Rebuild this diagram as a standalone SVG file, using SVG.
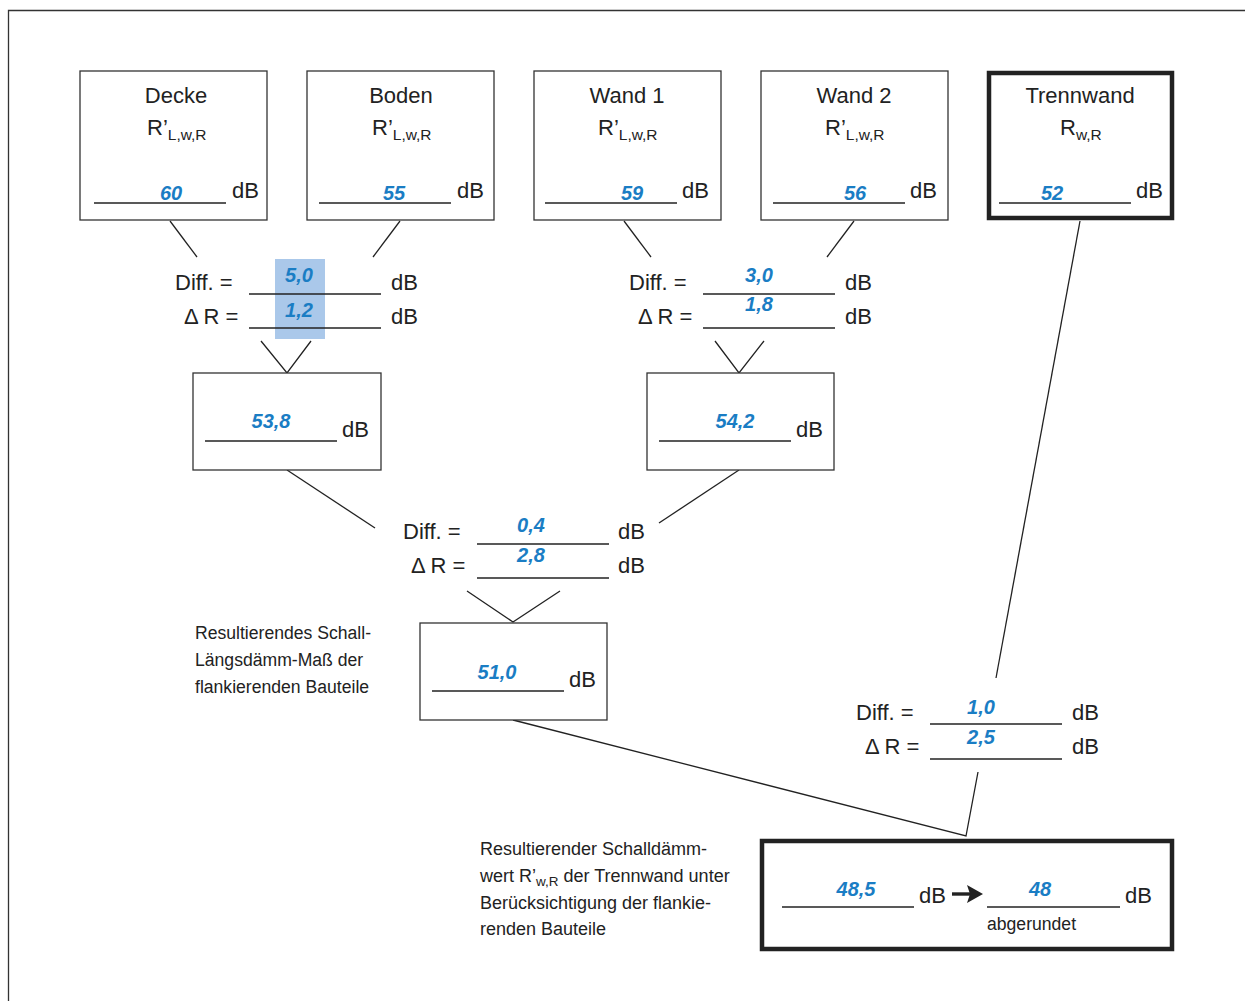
<svg xmlns="http://www.w3.org/2000/svg" width="1245" height="1001" viewBox="0 0 1245 1001">
<style>
text{font-family:"Liberation Sans",Arial,sans-serif;fill:#222}
.t{font-size:22px;text-anchor:middle}
.s{font-size:15.5px}
.u{font-size:22px}
.v{font-size:20px;font-weight:bold;font-style:italic;fill:#1a7dc4;text-anchor:middle}
.n{font-size:17.6px}
.n2{font-size:18px}
.box{fill:#fff;stroke:#333;stroke-width:1.3}
.thick{fill:#fff;stroke:#222;stroke-width:4.5}
.ul{stroke:#222;stroke-width:1.3}
.c{stroke:#222;stroke-width:1.3;fill:none}
</style>
<rect x="0" y="0" width="1245" height="1001" fill="#fff"/>
<path d="M8.5 1001 V10.5 H1245" fill="none" stroke="#333" stroke-width="1.3"/>
<rect x="275" y="259" width="50" height="80" fill="#aac8ea"/>

<g id="connectors">
<line class="c" x1="170" y1="221" x2="197" y2="257"/>
<line class="c" x1="400" y1="221" x2="373" y2="257"/>
<line class="c" x1="624" y1="221" x2="651" y2="257"/>
<line class="c" x1="854" y1="221" x2="827" y2="257"/>
<line class="c" x1="1080" y1="221" x2="996" y2="678"/>
<polyline class="c" points="261,341 287,373 311,341"/>
<polyline class="c" points="715,341 739,373 764,341"/>
<line class="c" x1="287" y1="470" x2="375" y2="528"/>
<line class="c" x1="739" y1="470" x2="659" y2="523"/>
<polyline class="c" points="467,591 513,622 560,591"/>
<polyline class="c" points="513,720 966,836 978,772"/>
</g>

<g id="decke">
<rect class="box" x="80" y="71" width="187" height="149"/>
<text class="t" x="176" y="103">Decke</text>
<text class="u" x="147" y="135">R’<tspan class="s" dy="5">L,w,R</tspan></text>
<line class="ul" x1="94" y1="203" x2="226" y2="203"/>
<text class="v" x="171" y="200">60</text>
<text class="u" x="232" y="198">dB</text>
</g>
<g id="boden">
<rect class="box" x="307" y="71" width="187" height="149"/>
<text class="t" x="401" y="103">Boden</text>
<text class="u" x="372" y="135">R’<tspan class="s" dy="5">L,w,R</tspan></text>
<line class="ul" x1="319" y1="203" x2="451" y2="203"/>
<text class="v" x="394" y="200">55</text>
<text class="u" x="457" y="198">dB</text>
</g>
<g id="wand1">
<rect class="box" x="534" y="71" width="187" height="149"/>
<text class="t" x="627" y="103">Wand 1</text>
<text class="u" x="598" y="135">R’<tspan class="s" dy="5">L,w,R</tspan></text>
<line class="ul" x1="545" y1="203" x2="677" y2="203"/>
<text class="v" x="632" y="200">59</text>
<text class="u" x="682" y="198">dB</text>
</g>
<g id="wand2">
<rect class="box" x="761" y="71" width="187" height="149"/>
<text class="t" x="854" y="103">Wand 2</text>
<text class="u" x="825" y="135">R’<tspan class="s" dy="5">L,w,R</tspan></text>
<line class="ul" x1="773" y1="203" x2="905" y2="203"/>
<text class="v" x="855" y="200">56</text>
<text class="u" x="910" y="198">dB</text>
</g>
<g id="trennwand">
<rect class="thick" x="989" y="73" width="183" height="145"/>
<text class="t" x="1080" y="103">Trennwand</text>
<text class="u" x="1060" y="135">R<tspan class="s" dy="5">w,R</tspan></text>
<line class="ul" x1="999" y1="203" x2="1131" y2="203"/>
<text class="v" x="1052" y="200">52</text>
<text class="u" x="1136" y="198">dB</text>
</g>

<g id="diff1">
<text class="u" x="175" y="290">Diff. =</text>
<text class="u" x="184" y="324">Δ R =</text>
<line class="ul" x1="249" y1="294" x2="381" y2="294"/>
<line class="ul" x1="249" y1="328" x2="381" y2="328"/>
<text class="v" x="299" y="282">5,0</text>
<text class="v" x="299" y="317">1,2</text>
<text class="u" x="391" y="290">dB</text>
<text class="u" x="391" y="324">dB</text>
</g>
<g id="res1">
<rect class="box" x="193" y="373" width="188" height="97"/>
<line class="ul" x1="205" y1="441" x2="337" y2="441"/>
<text class="v" x="271" y="428">53,8</text>
<text class="u" x="342" y="437">dB</text>
</g>

<g id="diff2">
<text class="u" x="629" y="290">Diff. =</text>
<text class="u" x="638" y="324">Δ R =</text>
<line class="ul" x1="703" y1="294" x2="835" y2="294"/>
<line class="ul" x1="703" y1="328" x2="835" y2="328"/>
<text class="v" x="759" y="282">3,0</text>
<text class="v" x="759" y="311">1,8</text>
<text class="u" x="845" y="290">dB</text>
<text class="u" x="845" y="324">dB</text>
</g>
<g id="res2">
<rect class="box" x="647" y="373" width="187" height="97"/>
<line class="ul" x1="659" y1="441" x2="791" y2="441"/>
<text class="v" x="735" y="428">54,2</text>
<text class="u" x="796" y="437">dB</text>
</g>

<g id="diff3">
<text class="u" x="403" y="539">Diff. =</text>
<text class="u" x="411" y="573">Δ R =</text>
<line class="ul" x1="477" y1="544" x2="609" y2="544"/>
<line class="ul" x1="477" y1="578" x2="609" y2="578"/>
<text class="v" x="531" y="532">0,4</text>
<text class="v" x="531" y="562">2,8</text>
<text class="u" x="618" y="539">dB</text>
<text class="u" x="618" y="573">dB</text>
</g>
<g id="res3">
<rect class="box" x="420" y="623" width="187" height="97"/>
<line class="ul" x1="432" y1="691" x2="564" y2="691"/>
<text class="v" x="497" y="679">51,0</text>
<text class="u" x="569" y="687">dB</text>
</g>
<g id="note1">
<text class="n" x="195" y="639">Resultierendes Schall-</text>
<text class="n" x="195" y="666">Längsdämm-Maß der</text>
<text class="n" x="195" y="693">flankierenden Bauteile</text>
</g>

<g id="diff4">
<text class="u" x="856" y="720">Diff. =</text>
<text class="u" x="865" y="754">Δ R =</text>
<line class="ul" x1="930" y1="724" x2="1062" y2="724"/>
<line class="ul" x1="930" y1="759" x2="1062" y2="759"/>
<text class="v" x="981" y="714">1,0</text>
<text class="v" x="981" y="744">2,5</text>
<text class="u" x="1072" y="720">dB</text>
<text class="u" x="1072" y="754">dB</text>
</g>

<g id="result">
<rect class="thick" x="762" y="841" width="410" height="108"/>
<line class="ul" x1="782" y1="907" x2="914" y2="907"/>
<text class="v" x="856" y="896">48,5</text>
<text class="u" x="919" y="903">dB</text>
<path d="M952 894 H972" fill="none" stroke="#222" stroke-width="3.4"/>
<path d="M967 885 L983 894 L967 903 L970 894 Z" fill="#222"/>
<line class="ul" x1="987" y1="907" x2="1120" y2="907"/>
<text class="v" x="1040" y="896">48</text>
<text class="u" x="1125" y="903">dB</text>
<text class="n" x="987" y="930">abgerundet</text>
</g>
<g id="note2">
<text class="n2" x="480" y="855">Resultierender Schalldämm-</text>
<text class="n2" x="480" y="882">wert R’<tspan font-size="13.5" dy="4">w,R</tspan><tspan dy="-4"> der Trennwand unter</tspan></text>
<text class="n2" x="480" y="909">Berücksichtigung der flankie-</text>
<text class="n2" x="480" y="935">renden Bauteile</text>
</g>
</svg>
